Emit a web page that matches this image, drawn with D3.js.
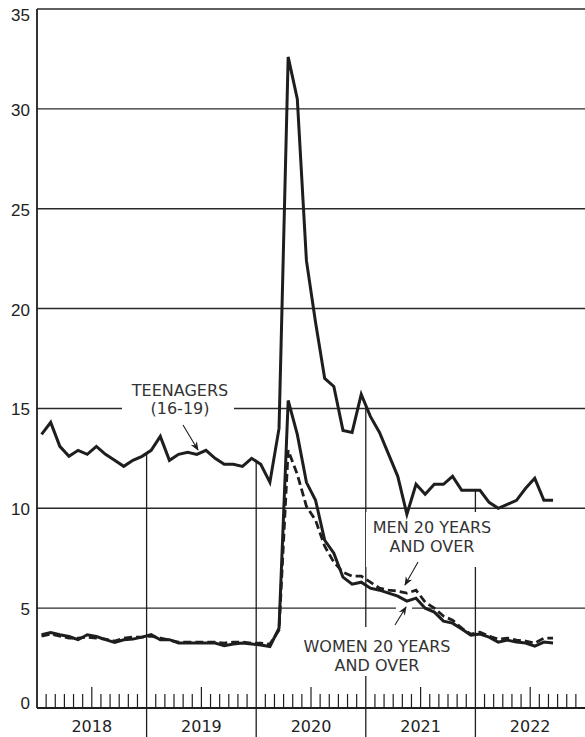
<!DOCTYPE html>
<html><head><meta charset="utf-8">
<script src="https://cdn.jsdelivr.net/npm/d3@7"></script>
<style>html,body{margin:0;padding:0;background:#fff;} svg{display:block}</style>
</head><body>
<svg id="chart" width="585" height="737"></svg>
<script>
// ---- data (monthly, Jan 2018 – Sep 2022) ----
const years = ["2018", "2019", "2020", "2021", "2022"];
const yTicks = [0, 5, 10, 15, 20, 25, 30, 35];
const teenagers = [
  13.7, 14.3, 13.1, 12.6, 12.9, 12.7, 13.1, 12.7, 12.4, 12.1, 12.4, 12.6,
  12.9, 13.6, 12.4, 12.7, 12.8, 12.7, 12.9, 12.5, 12.2, 12.2, 12.1, 12.5,
  12.2, 11.3, 14.0, 32.6, 30.5, 22.4, 19.3, 16.5, 16.1, 13.9, 13.8, 15.7,
  14.6, 13.8, 12.7, 11.6, 9.7, 11.2, 10.7, 11.2, 11.2, 11.6, 10.9, 10.9,
  10.9, 10.3, 10.0, 10.2, 10.4, 11.0, 11.5, 10.4, 10.4
];
const men20 = [
  3.6, 3.7, 3.6, 3.5, 3.5, 3.55, 3.5, 3.45, 3.35, 3.5, 3.55, 3.55,
  3.6, 3.5, 3.4, 3.3, 3.3, 3.3, 3.3, 3.3, 3.25, 3.3, 3.3, 3.25,
  3.25, 3.2, 3.9, 12.9, 11.7, 10.1, 9.4, 8.1, 7.3, 6.8, 6.6, 6.6,
  6.3, 6.0, 5.9, 5.85, 5.75, 5.9, 5.3, 5.0, 4.6, 4.4, 4.0, 3.7,
  3.8, 3.6, 3.45, 3.5, 3.4, 3.35, 3.25, 3.5, 3.5
];
const women20 = [
  3.67, 3.78, 3.67, 3.58, 3.42, 3.67, 3.58, 3.42, 3.28, 3.42, 3.45, 3.55,
  3.67, 3.42, 3.42, 3.25, 3.25, 3.25, 3.25, 3.25, 3.12, 3.2, 3.25, 3.2,
  3.15, 3.08, 4.0, 15.4, 13.7, 11.3, 10.4, 8.4, 7.75, 6.55, 6.2, 6.3,
  6.0, 5.9, 5.75, 5.6, 5.35, 5.5, 5.0, 4.8, 4.35, 4.25, 3.95, 3.65,
  3.7, 3.55, 3.3, 3.4, 3.3, 3.25, 3.1, 3.3, 3.25
];
const teenLabel = ["TEENAGERS", "(16-19)"];
const menLabel = ["MEN 20 YEARS", "AND OVER"];
const womenLabel = ["WOMEN 20 YEARS", "AND OVER"];

// ---- drawing ----
const svg = d3.select("#chart");
const W = 585, H = 737;
const x = d3.scaleLinear().domain([0, 60]).range([37, 585]);
const y = d3.scaleLinear().domain([0, 35]).range([708, 9]);
const ink = "#1e1e1e";
const labelFont = "'DejaVu Sans', sans-serif";

// gridlines
svg.append("g").selectAll("line")
  .data(yTicks.filter(t => t > 0))
  .join("line")
  .attr("x1", x(0)).attr("x2", x(60))
  .attr("y1", d => y(d)).attr("y2", d => y(d))
  .attr("stroke", "#2a2a2a").attr("stroke-width", 1.4);

// y labels
svg.append("g").selectAll("text")
  .data(yTicks)
  .join("text")
  .attr("x", 30)
  .attr("y", d => d === 35 ? y(d) + 12 : d === 0 ? y(d) + 1 : y(d) + 7)
  .attr("text-anchor", "end")
  .attr("font-family", "'Liberation Sans', Arial, sans-serif")
  .attr("font-size", 17)
  .attr("fill", "#222")
  .text(d => d);

// y axis line
svg.append("line")
  .attr("x1", x(0)).attr("x2", x(0))
  .attr("y1", y(35)).attr("y2", y(0))
  .attr("stroke", ink).attr("stroke-width", 1.8);

// year dividers (from teen line down below axis)
const teenAt = m => (teenagers[m - 1] + teenagers[m]) / 2;
svg.append("g").selectAll("line")
  .data([12, 24, 36, 48])
  .join("line")
  .attr("x1", d => x(d)).attr("x2", d => x(d))
  .attr("y1", d => y(teenAt(d))).attr("y2", H)
  .attr("stroke", ink).attr("stroke-width", 1.3);

// month ticks
svg.append("g").selectAll("line")
  .data(d3.range(1, 60).filter(m => m % 12 !== 0))
  .join("line")
  .attr("x1", d => x(d)).attr("x2", d => x(d))
  .attr("y1", y(0)).attr("y2", d => y(0) - (d % 12 === 6 ? 21 : 14))
  .attr("stroke", ink).attr("stroke-width", 1.2);

// x axis line
svg.append("line")
  .attr("x1", x(0)).attr("x2", x(60))
  .attr("y1", y(0)).attr("y2", y(0))
  .attr("stroke", ink).attr("stroke-width", 2);

// year labels
svg.append("g").selectAll("text")
  .data(years)
  .join("text")
  .attr("x", (d, i) => x(i * 12 + 6))
  .attr("y", 732)
  .attr("text-anchor", "middle")
  .attr("font-family", labelFont)
  .attr("font-size", 16)
  .attr("fill", "#222")
  .text(d => d);

// white backgrounds behind labels (interrupt grid / dividers)
const bg = svg.append("g");
bg.append("rect").attr("x", 122).attr("y", 378).attr("width", 112).attr("height", 40).attr("fill", "#fff");
bg.append("rect").attr("x", 366).attr("y", 512).attr("width", 132).attr("height", 55).attr("fill", "#fff");
bg.append("rect").attr("x", 296).attr("y", 627).attr("width", 162).attr("height", 49).attr("fill", "#fff");
bg.append("rect").attr("x", 396).attr("y", 604).attr("width", 16).attr("height", 8).attr("fill", "#fff");

// data lines
const line = d3.line().x((d, i) => x(i + 0.5)).y(d => y(d)).curve(d3.curveLinear);
svg.append("path").datum(teenagers).attr("d", line)
  .attr("fill", "none").attr("stroke", ink).attr("stroke-width", 3).attr("stroke-linejoin", "miter");
svg.append("path").datum(women20).attr("d", line)
  .attr("fill", "none").attr("stroke", ink).attr("stroke-width", 3).attr("stroke-linejoin", "miter");
svg.append("path").datum(men20).attr("d", line)
  .attr("fill", "none").attr("stroke", ink).attr("stroke-width", 2.8)
  .attr("stroke-dasharray", "8,4").attr("stroke-linejoin", "miter");

// labels
function block(lines, cx, y0, dy) {
  svg.append("g").selectAll("text")
    .data(lines).join("text")
    .attr("x", cx).attr("y", (d, i) => y0 + i * dy)
    .attr("text-anchor", "middle")
    .attr("font-family", labelFont)
    .attr("font-size", 16)
    .attr("fill", "#333")
    .text(d => d);
}
block(teenLabel, 180, 396, 18);
block(menLabel, 432, 533, 19);
block(womenLabel, 377, 652, 19);

// arrows
svg.append("defs").append("marker")
  .attr("id", "ah").attr("viewBox", "0 0 10 10")
  .attr("refX", 9).attr("refY", 5)
  .attr("markerWidth", 9).attr("markerHeight", 9)
  .attr("orient", "auto").attr("markerUnits", "userSpaceOnUse")
  .append("path").attr("d", "M0,1 L10,5 L0,9 L3,5 Z").attr("fill", ink);
const arrows = [[183, 425, 198, 450], [418, 562, 405, 585], [395, 625, 406, 607]];
svg.append("g").selectAll("line")
  .data(arrows).join("line")
  .attr("x1", d => d[0]).attr("y1", d => d[1])
  .attr("x2", d => d[2]).attr("y2", d => d[3])
  .attr("stroke", ink).attr("stroke-width", 1.1)
  .attr("marker-end", "url(#ah)");
</script>
</body></html>
